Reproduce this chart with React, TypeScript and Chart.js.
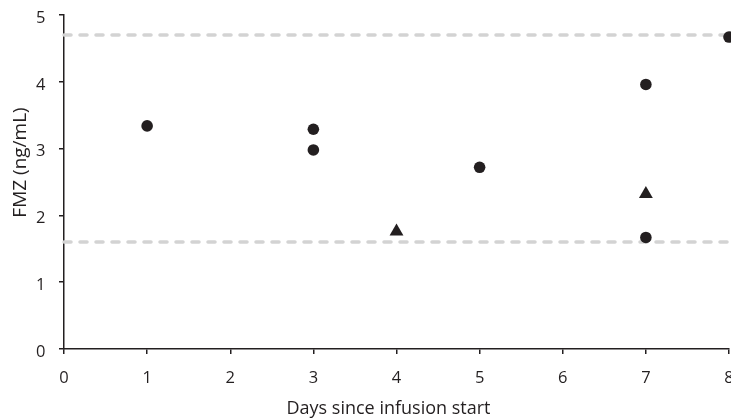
import React, { useEffect, useRef } from "react";
import { Chart, registerables } from "chart.js";

Chart.register(...registerables);

const circleDays = [1, 3, 3, 5, 7, 7, 8];
const circleFmz = [3.34, 3.29, 2.98, 2.72, 3.96, 1.67, 4.67];
const triangleDays = [4, 7];
const triangleFmz = [1.76, 2.32];
const refLevels = [4.7, 1.6];
const xRange = [0, 8];
const yRange = [0, 5];
const xTitle = "Days since infusion start";
const yTitle = "FMZ (ng/mL)";

const INK = "#231f20";
const FONT = "'Open Sans', sans-serif";

const titlePlugin = {
  id: "axisTitles",
  afterDraw(chart: any) {
    const { ctx, chartArea } = chart;
    const cx = (chartArea.left + chartArea.right) / 2;
    const cy = (chartArea.top + chartArea.bottom) / 2;
    ctx.save();
    ctx.fillStyle = INK;
    ctx.textAlign = "center";
    ctx.textBaseline = "alphabetic";
    ctx.font = `18px ${FONT}`;
    ctx.fillText(xTitle, cx - 8, chartArea.bottom + 65);
    ctx.translate(chartArea.left - 38, cy - 19.5);
    ctx.rotate(-Math.PI / 2);
    ctx.font = `19px ${FONT}`;
    ctx.fillText(yTitle, 0, 0);
    ctx.restore();
  },
};

export default function App() {
  const ref = useRef<HTMLCanvasElement | null>(null);

  useEffect(() => {
    if (!ref.current) return;
    const toPts = (xs: number[], ys: number[]) => xs.map((x, i) => ({ x, y: ys[i] }));
    const refSets = refLevels.map((lv) => ({
      type: "line" as const,
      data: [
        { x: xRange[0], y: lv },
        { x: xRange[1], y: lv },
      ],
      borderColor: "#d3d3d3",
      borderWidth: 3.5,
      borderDash: [7, 9],
      borderCapStyle: "round" as const,
      pointRadius: 0,
      pointHoverRadius: 0,
      showLine: true,
      order: 2,
      clip: false as any,
    }));
    const chart = new Chart(ref.current, {
      type: "scatter",
      data: {
        datasets: [
          {
            data: toPts(circleDays, circleFmz),
            pointStyle: "circle",
            pointRadius: 5.8,
            pointHoverRadius: 5.8,
            backgroundColor: INK,
            borderColor: INK,
            borderWidth: 0,
            order: 1,
            clip: false as any,
          },
          {
            data: toPts(triangleDays, triangleFmz),
            pointStyle: "triangle",
            pointRadius: 8,
            pointHoverRadius: 8,
            backgroundColor: INK,
            borderColor: INK,
            borderWidth: 0,
            order: 1,
            clip: false as any,
          },
          ...(refSets as any[]),
        ],
      },
      options: {
        responsive: false,
        animation: false,
        events: [],
        layout: { autoPadding: false, padding: { top: 15, right: 2, left: 0, bottom: 0 } },
        plugins: { legend: { display: false }, tooltip: { enabled: false } },
        scales: {
          x: {
            type: "linear",
            min: xRange[0],
            max: xRange[1],
            ticks: { stepSize: 1, color: INK, padding: 14, font: { family: FONT, size: 16.5 } },
            grid: { display: true, drawOnChartArea: false, drawTicks: true, tickLength: 5, color: INK, lineWidth: 1.5 },
            border: { display: true, color: INK, width: 1.5 },
            title: { display: false },
            afterFit: (s: any) => {
              s.height = 69;
              s.paddingRight = 0;
              s.paddingLeft = 0;
            },
          },
          y: {
            type: "linear",
            min: yRange[0],
            max: yRange[1],
            ticks: { stepSize: 1, color: INK, padding: 13.5, labelOffset: 3, font: { family: FONT, size: 16.5 } },
            grid: { display: true, drawOnChartArea: false, drawTicks: true, tickLength: 5, color: INK, lineWidth: 1.5 },
            border: { display: true, color: INK, width: 1.5 },
            title: { display: false },
            afterFit: (s: any) => {
              s.width = 64;
              s.paddingTop = 0;
              s.paddingBottom = 0;
            },
          },
        },
      },
      plugins: [titlePlugin],
    });
    return () => chart.destroy();
  }, []);

  return (
    <div style={{ position: "absolute", left: 0, top: 0, width: 731, height: 418, background: "#fff", overflow: "hidden" }}>
      <canvas ref={ref} width={731} height={418} style={{ display: "block" }} />
    </div>
  );
}
